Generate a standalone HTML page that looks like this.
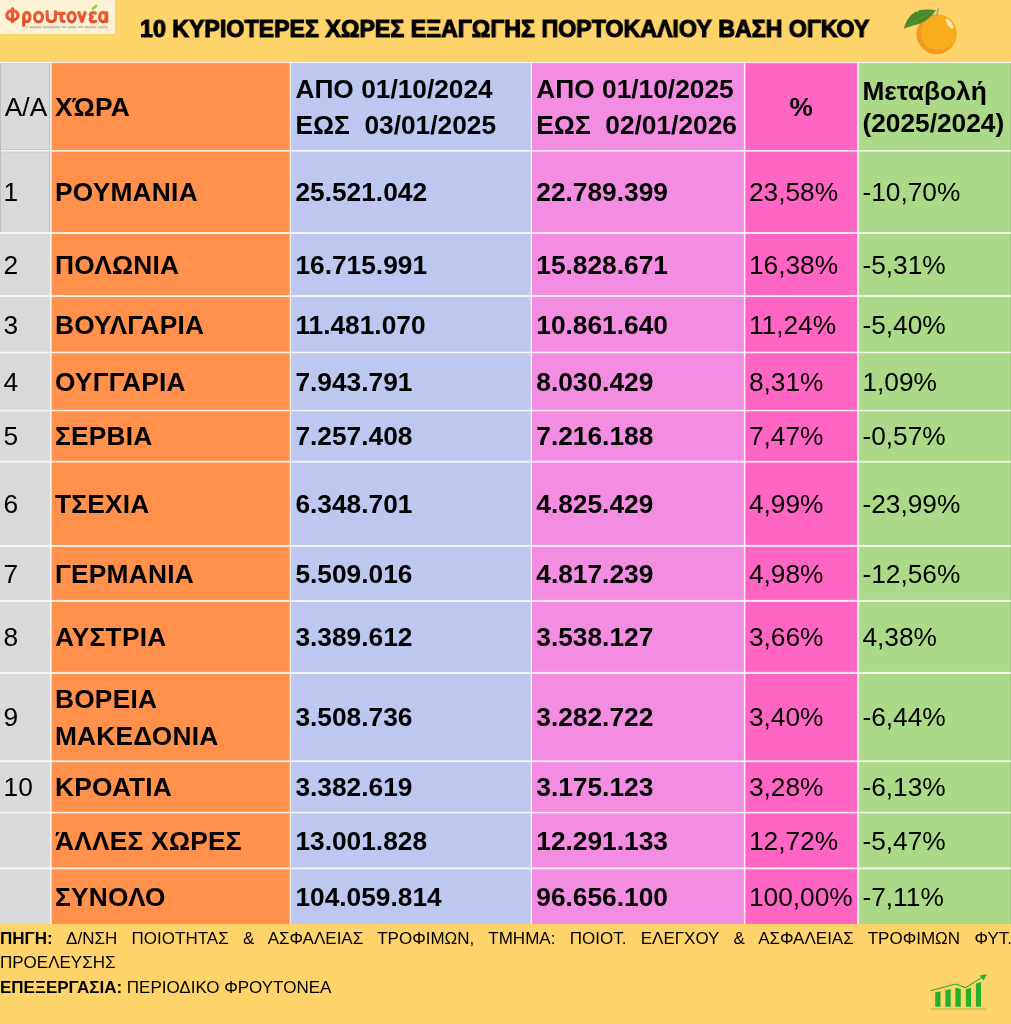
<!DOCTYPE html>
<html><head><meta charset="utf-8">
<style>
html,body{margin:0;padding:0;}
body{width:1011px;height:1024px;overflow:hidden;position:relative;background:#FED46A;font-family:"Liberation Sans",sans-serif;color:#000;}
.abs{position:absolute;}
#texts,.foot,.title{will-change:transform;}
.t{position:absolute;white-space:pre;font-size:26.3px;line-height:36.8px;}
.b{font-weight:bold;}
.title{position:absolute;left:140.3px;top:14.2px;font-weight:bold;font-size:24.6px;line-height:30px;white-space:pre;transform-origin:0 0;transform:scaleX(0.943);-webkit-text-stroke:1.1px #000;}
.foot{position:absolute;left:0;width:1012px;font-size:17px;line-height:24px;white-space:nowrap;}
</style></head>
<body>
<!-- logo -->
<div class="abs" style="left:0;top:0;width:115px;height:34px;background:#FDF1D6;"></div>
<svg class="abs" style="left:0;top:0" width="115" height="34" viewBox="0 0 115 34">
  <defs><linearGradient id="lg" gradientUnits="userSpaceOnUse" x1="0" y1="8" x2="0" y2="25"><stop offset="0" stop-color="#F26536"/><stop offset="1" stop-color="#DF4C28"/></linearGradient></defs>
  <g fill="none" stroke="url(#lg)" stroke-width="3.2" stroke-linecap="round" stroke-linejoin="round">
    <ellipse cx="12.45" cy="15.2" rx="5.6" ry="4.5"/>
    <path d="M12.45 8.6 V21.6" stroke-width="3.2"/>
    <ellipse cx="26.85" cy="17.0" rx="3.15" ry="4.6"/>
    <path d="M23.7 17 V25.2" stroke-width="3.1"/>
    <ellipse cx="38.55" cy="17.1" rx="4.0" ry="4.75"/>
    <path d="M47.2 11.5 V17.6 Q47.2 21.6 51.35 21.6 Q55.5 21.6 55.5 17.6 V11.5" stroke-width="3.1"/>
    <path d="M57.4 13.35 H64.2" stroke-width="3.4"/>
    <path d="M61.25 13.3 V18.8 Q61.25 21.4 64.0 21.4" stroke-width="3.3"/>
    <ellipse cx="71.65" cy="17.1" rx="3.55" ry="4.75"/>
    <path d="M78.8 12.6 L81.95 21.5 L85.1 12.6" stroke-width="3.2"/>
    <path d="M95.3 13.1 Q92.6 12.1 90.8 13.5 Q89.4 15.3 92.3 17.0 Q89.3 18.5 90.6 20.7 Q92.6 22.5 95.7 21.3" stroke-width="3.2"/>
    <ellipse cx="102.9" cy="17.1" rx="3.3" ry="4.7" stroke-width="3.3"/>
    <path d="M106.7 12.6 V21.6" stroke-width="3.2"/>
  </g>
  <ellipse cx="94.4" cy="7.5" rx="3.6" ry="1.4" transform="rotate(-42 94.4 7.5)" fill="#9CCB3A"/>
  <g fill="#A39A86" opacity="0.5">
    <rect x="26.3" y="26" width="1.6" height="2"/>
    <rect x="29.3" y="26" width="12" height="2.4"/>
    <rect x="42.8" y="26" width="17" height="2.4"/>
    <rect x="61.3" y="26" width="5" height="2"/>
    <rect x="67.5" y="26" width="9" height="2.4"/>
    <rect x="78" y="26" width="5" height="2"/>
    <rect x="84.5" y="26" width="12" height="2.4"/>
    <rect x="98" y="26" width="9.8" height="2.4"/>
  </g>
</svg>
<div class="title" id="title">10 ΚΥΡΙΟΤΕΡΕΣ ΧΩΡΕΣ ΕΞΑΓΩΓΗΣ ΠΟΡΤΟΚΑΛΙΟΥ ΒΑΣΗ ΟΓΚΟΥ</div>

<!-- orange icon -->
<svg class="abs" style="left:895px;top:0" width="70" height="60" viewBox="895 0 70 60">
  <circle cx="936.5" cy="34.2" r="20" fill="#F39A1E"/>
  <circle cx="938.8" cy="32.5" r="17.6" fill="#F8AE1C"/>
  <ellipse cx="949.5" cy="23.7" rx="2.1" ry="5.8" transform="rotate(-36 949.5 23.7)" fill="#FBE8BE"/>
  <path d="M936.6 16 L938.2 8.8" stroke="#A8A58F" stroke-width="1.6" stroke-linecap="round"/>
  <path d="M903.8 28.8 C906 20.5 910.5 14 916.6 11.3 L917.6 12.5 L918.6 10.2 C924.5 8.8 931 9.5 936 10 C932 16 926 22 917 24.5 C912 26 907 27.5 903.8 28.8 Z" fill="#4A8A2C"/>
  <path d="M905 27.5 C914 22 925 15 935 10.3" stroke="#6CA840" stroke-width="0.6" fill="none"/>
</svg>

<!-- table grid -->
<svg class="abs" style="left:0;top:0" width="1011" height="1024" viewBox="0 0 1011 1024">
    <g id="cells">
<rect x="0.00" y="62.00" width="50.95" height="88.85" fill="#D9D9D9"/>
<rect x="50.95" y="62.00" width="239.45" height="88.85" fill="#FF914D"/>
<rect x="290.40" y="62.00" width="240.95" height="88.85" fill="#BEC7F0"/>
<rect x="531.35" y="62.00" width="213.30" height="88.85" fill="#F38DE2"/>
<rect x="744.65" y="62.00" width="113.35" height="88.85" fill="#FF66C4"/>
<rect x="858.00" y="62.00" width="153.00" height="88.85" fill="#ACD987"/>
<rect x="0.00" y="150.85" width="50.95" height="82.15" fill="#D9D9D9"/>
<rect x="50.95" y="150.85" width="239.45" height="82.15" fill="#FF914D"/>
<rect x="290.40" y="150.85" width="240.95" height="82.15" fill="#BEC7F0"/>
<rect x="531.35" y="150.85" width="213.30" height="82.15" fill="#F38DE2"/>
<rect x="744.65" y="150.85" width="113.35" height="82.15" fill="#FF66C4"/>
<rect x="858.00" y="150.85" width="153.00" height="82.15" fill="#ACD987"/>
<rect x="0.00" y="233.00" width="50.95" height="63.00" fill="#D9D9D9"/>
<rect x="50.95" y="233.00" width="239.45" height="63.00" fill="#FF914D"/>
<rect x="290.40" y="233.00" width="240.95" height="63.00" fill="#BEC7F0"/>
<rect x="531.35" y="233.00" width="213.30" height="63.00" fill="#F38DE2"/>
<rect x="744.65" y="233.00" width="113.35" height="63.00" fill="#FF66C4"/>
<rect x="858.00" y="233.00" width="153.00" height="63.00" fill="#ACD987"/>
<rect x="0.00" y="296.00" width="50.95" height="56.50" fill="#D9D9D9"/>
<rect x="50.95" y="296.00" width="239.45" height="56.50" fill="#FF914D"/>
<rect x="290.40" y="296.00" width="240.95" height="56.50" fill="#BEC7F0"/>
<rect x="531.35" y="296.00" width="213.30" height="56.50" fill="#F38DE2"/>
<rect x="744.65" y="296.00" width="113.35" height="56.50" fill="#FF66C4"/>
<rect x="858.00" y="296.00" width="153.00" height="56.50" fill="#ACD987"/>
<rect x="0.00" y="352.50" width="50.95" height="58.05" fill="#D9D9D9"/>
<rect x="50.95" y="352.50" width="239.45" height="58.05" fill="#FF914D"/>
<rect x="290.40" y="352.50" width="240.95" height="58.05" fill="#BEC7F0"/>
<rect x="531.35" y="352.50" width="213.30" height="58.05" fill="#F38DE2"/>
<rect x="744.65" y="352.50" width="113.35" height="58.05" fill="#FF66C4"/>
<rect x="858.00" y="352.50" width="153.00" height="58.05" fill="#ACD987"/>
<rect x="0.00" y="410.55" width="50.95" height="51.15" fill="#D9D9D9"/>
<rect x="50.95" y="410.55" width="239.45" height="51.15" fill="#FF914D"/>
<rect x="290.40" y="410.55" width="240.95" height="51.15" fill="#BEC7F0"/>
<rect x="531.35" y="410.55" width="213.30" height="51.15" fill="#F38DE2"/>
<rect x="744.65" y="410.55" width="113.35" height="51.15" fill="#FF66C4"/>
<rect x="858.00" y="410.55" width="153.00" height="51.15" fill="#ACD987"/>
<rect x="0.00" y="461.70" width="50.95" height="84.25" fill="#D9D9D9"/>
<rect x="50.95" y="461.70" width="239.45" height="84.25" fill="#FF914D"/>
<rect x="290.40" y="461.70" width="240.95" height="84.25" fill="#BEC7F0"/>
<rect x="531.35" y="461.70" width="213.30" height="84.25" fill="#F38DE2"/>
<rect x="744.65" y="461.70" width="113.35" height="84.25" fill="#FF66C4"/>
<rect x="858.00" y="461.70" width="153.00" height="84.25" fill="#ACD987"/>
<rect x="0.00" y="545.95" width="50.95" height="54.95" fill="#D9D9D9"/>
<rect x="50.95" y="545.95" width="239.45" height="54.95" fill="#FF914D"/>
<rect x="290.40" y="545.95" width="240.95" height="54.95" fill="#BEC7F0"/>
<rect x="531.35" y="545.95" width="213.30" height="54.95" fill="#F38DE2"/>
<rect x="744.65" y="545.95" width="113.35" height="54.95" fill="#FF66C4"/>
<rect x="858.00" y="545.95" width="153.00" height="54.95" fill="#ACD987"/>
<rect x="0.00" y="600.90" width="50.95" height="72.05" fill="#D9D9D9"/>
<rect x="50.95" y="600.90" width="239.45" height="72.05" fill="#FF914D"/>
<rect x="290.40" y="600.90" width="240.95" height="72.05" fill="#BEC7F0"/>
<rect x="531.35" y="600.90" width="213.30" height="72.05" fill="#F38DE2"/>
<rect x="744.65" y="600.90" width="113.35" height="72.05" fill="#FF66C4"/>
<rect x="858.00" y="600.90" width="153.00" height="72.05" fill="#ACD987"/>
<rect x="0.00" y="672.95" width="50.95" height="88.30" fill="#D9D9D9"/>
<rect x="50.95" y="672.95" width="239.45" height="88.30" fill="#FF914D"/>
<rect x="290.40" y="672.95" width="240.95" height="88.30" fill="#BEC7F0"/>
<rect x="531.35" y="672.95" width="213.30" height="88.30" fill="#F38DE2"/>
<rect x="744.65" y="672.95" width="113.35" height="88.30" fill="#FF66C4"/>
<rect x="858.00" y="672.95" width="153.00" height="88.30" fill="#ACD987"/>
<rect x="0.00" y="761.25" width="50.95" height="51.35" fill="#D9D9D9"/>
<rect x="50.95" y="761.25" width="239.45" height="51.35" fill="#FF914D"/>
<rect x="290.40" y="761.25" width="240.95" height="51.35" fill="#BEC7F0"/>
<rect x="531.35" y="761.25" width="213.30" height="51.35" fill="#F38DE2"/>
<rect x="744.65" y="761.25" width="113.35" height="51.35" fill="#FF66C4"/>
<rect x="858.00" y="761.25" width="153.00" height="51.35" fill="#ACD987"/>
<rect x="0.00" y="812.60" width="50.95" height="55.75" fill="#D9D9D9"/>
<rect x="50.95" y="812.60" width="239.45" height="55.75" fill="#FF914D"/>
<rect x="290.40" y="812.60" width="240.95" height="55.75" fill="#BEC7F0"/>
<rect x="531.35" y="812.60" width="213.30" height="55.75" fill="#F38DE2"/>
<rect x="744.65" y="812.60" width="113.35" height="55.75" fill="#FF66C4"/>
<rect x="858.00" y="812.60" width="153.00" height="55.75" fill="#ACD987"/>
<rect x="0.00" y="868.35" width="50.95" height="55.65" fill="#D9D9D9"/>
<rect x="50.95" y="868.35" width="239.45" height="55.65" fill="#FF914D"/>
<rect x="290.40" y="868.35" width="240.95" height="55.65" fill="#BEC7F0"/>
<rect x="531.35" y="868.35" width="213.30" height="55.65" fill="#F38DE2"/>
<rect x="744.65" y="868.35" width="113.35" height="55.65" fill="#FF66C4"/>
<rect x="858.00" y="868.35" width="153.00" height="55.65" fill="#ACD987"/>
<rect x="0" y="62.00" width="1011" height="1.30" fill="#FBFBFB" opacity="0.85"/>
<rect x="0" y="150.00" width="1011" height="1.70" fill="#FBFBFB" opacity="0.85"/>
<rect x="0" y="232.00" width="1011" height="2.00" fill="#FBFBFB" opacity="0.85"/>
<rect x="0" y="295.00" width="1011" height="2.00" fill="#FBFBFB" opacity="0.85"/>
<rect x="0" y="351.70" width="1011" height="1.60" fill="#FBFBFB" opacity="0.85"/>
<rect x="0" y="409.80" width="1011" height="1.50" fill="#FBFBFB" opacity="0.85"/>
<rect x="0" y="460.80" width="1011" height="1.80" fill="#FBFBFB" opacity="0.85"/>
<rect x="0" y="544.90" width="1011" height="2.10" fill="#FBFBFB" opacity="0.85"/>
<rect x="0" y="599.90" width="1011" height="2.00" fill="#FBFBFB" opacity="0.85"/>
<rect x="0" y="671.90" width="1011" height="2.10" fill="#FBFBFB" opacity="0.85"/>
<rect x="0" y="760.30" width="1011" height="1.90" fill="#FBFBFB" opacity="0.85"/>
<rect x="0" y="811.80" width="1011" height="1.60" fill="#FBFBFB" opacity="0.85"/>
<rect x="0" y="867.40" width="1011" height="1.90" fill="#FBFBFB" opacity="0.85"/>
<rect x="50.20" y="62.00" width="1.50" height="862.00" fill="#FBFBFB" opacity="0.85"/>
<rect x="289.70" y="62.00" width="1.40" height="862.00" fill="#FBFBFB" opacity="0.85"/>
<rect x="530.70" y="62.00" width="1.30" height="862.00" fill="#FBFBFB" opacity="0.85"/>
<rect x="743.90" y="62.00" width="1.50" height="862.00" fill="#FBFBFB" opacity="0.85"/>
<rect x="857.10" y="62.00" width="1.80" height="862.00" fill="#FBFBFB" opacity="0.85"/>
<rect x="0" y="63.3" width="1011" height="0.7" fill="#000" opacity="0.08"/>
<rect x="1010" y="63.3" width="1" height="860.7" fill="#000" opacity="0.05"/>
<rect x="0" y="63.3" width="1" height="168.7" fill="#BDBDBD"/>
<rect x="49.2" y="63.3" width="1" height="168.7" fill="#C4C4C4"/>
<rect x="0" y="149.2" width="50.2" height="0.8" fill="#C4C4C4"/>
<rect x="0" y="151.7" width="50.2" height="0.6" fill="#C4C4C4"/>
</g>
</svg>

<div id="texts">
<div class="t" style="left:4.80px;top:88.95px;line-height:36.8px;">Α/Α</div>
<div class="t b" style="left:54.90px;top:88.95px;line-height:36.8px;letter-spacing:0.25px;">ΧΏΡΑ</div>
<div class="t b" style="left:295.40px;top:70.55px;line-height:36.8px;">ΑΠΟ 01/10/2024
ΕΩΣ  03/01/2025</div>
<div class="t b" style="left:536.30px;top:70.55px;line-height:36.8px;">ΑΠΟ 01/10/2025
ΕΩΣ  02/01/2026</div>
<div class="t b" style="left:745.40px;top:88.95px;line-height:36.8px;width:111.70px;text-align:center;">%</div>
<div class="t b" style="left:862.40px;top:74.75px;line-height:32.6px;">Μεταβολή
(2025/2024)</div>
<div class="t" style="left:3.60px;top:174.15px;line-height:36.8px;">1</div>
<div class="t b" style="left:54.90px;top:174.15px;line-height:36.8px;letter-spacing:0.25px;">ΡΟΥΜΑΝΙΑ</div>
<div class="t b" style="left:295.40px;top:174.15px;line-height:36.8px;">25.521.042</div>
<div class="t b" style="left:536.30px;top:174.15px;line-height:36.8px;">22.789.399</div>
<div class="t" style="left:748.90px;top:174.15px;line-height:36.8px;">23,58%</div>
<div class="t" style="left:862.40px;top:174.15px;line-height:36.8px;">-10,70%</div>
<div class="t" style="left:3.60px;top:246.80px;line-height:36.8px;">2</div>
<div class="t b" style="left:54.90px;top:246.80px;line-height:36.8px;letter-spacing:0.25px;">ΠΟΛΩΝΙΑ</div>
<div class="t b" style="left:295.40px;top:246.80px;line-height:36.8px;">16.715.991</div>
<div class="t b" style="left:536.30px;top:246.80px;line-height:36.8px;">15.828.671</div>
<div class="t" style="left:748.90px;top:246.80px;line-height:36.8px;">16,38%</div>
<div class="t" style="left:862.40px;top:246.80px;line-height:36.8px;">-5,31%</div>
<div class="t" style="left:3.60px;top:306.65px;line-height:36.8px;">3</div>
<div class="t b" style="left:54.90px;top:306.65px;line-height:36.8px;letter-spacing:0.25px;">ΒΟΥΛΓΑΡΙΑ</div>
<div class="t b" style="left:295.40px;top:306.65px;line-height:36.8px;">11.481.070</div>
<div class="t b" style="left:536.30px;top:306.65px;line-height:36.8px;">10.861.640</div>
<div class="t" style="left:748.90px;top:306.65px;line-height:36.8px;">11,24%</div>
<div class="t" style="left:862.40px;top:306.65px;line-height:36.8px;">-5,40%</div>
<div class="t" style="left:3.60px;top:363.85px;line-height:36.8px;">4</div>
<div class="t b" style="left:54.90px;top:363.85px;line-height:36.8px;letter-spacing:0.25px;">ΟΥΓΓΑΡΙΑ</div>
<div class="t b" style="left:295.40px;top:363.85px;line-height:36.8px;">7.943.791</div>
<div class="t b" style="left:536.30px;top:363.85px;line-height:36.8px;">8.030.429</div>
<div class="t" style="left:748.90px;top:363.85px;line-height:36.8px;">8,31%</div>
<div class="t" style="left:862.40px;top:363.85px;line-height:36.8px;">1,09%</div>
<div class="t" style="left:3.60px;top:418.35px;line-height:36.8px;">5</div>
<div class="t b" style="left:54.90px;top:418.35px;line-height:36.8px;letter-spacing:0.25px;">ΣΕΡΒΙΑ</div>
<div class="t b" style="left:295.40px;top:418.35px;line-height:36.8px;">7.257.408</div>
<div class="t b" style="left:536.30px;top:418.35px;line-height:36.8px;">7.216.188</div>
<div class="t" style="left:748.90px;top:418.35px;line-height:36.8px;">7,47%</div>
<div class="t" style="left:862.40px;top:418.35px;line-height:36.8px;">-0,57%</div>
<div class="t" style="left:3.60px;top:486.05px;line-height:36.8px;">6</div>
<div class="t b" style="left:54.90px;top:486.05px;line-height:36.8px;letter-spacing:0.25px;">ΤΣΕΧΙΑ</div>
<div class="t b" style="left:295.40px;top:486.05px;line-height:36.8px;">6.348.701</div>
<div class="t b" style="left:536.30px;top:486.05px;line-height:36.8px;">4.825.429</div>
<div class="t" style="left:748.90px;top:486.05px;line-height:36.8px;">4,99%</div>
<div class="t" style="left:862.40px;top:486.05px;line-height:36.8px;">-23,99%</div>
<div class="t" style="left:3.60px;top:555.75px;line-height:36.8px;">7</div>
<div class="t b" style="left:54.90px;top:555.75px;line-height:36.8px;letter-spacing:0.25px;">ΓΕΡΜΑΝΙΑ</div>
<div class="t b" style="left:295.40px;top:555.75px;line-height:36.8px;">5.509.016</div>
<div class="t b" style="left:536.30px;top:555.75px;line-height:36.8px;">4.817.239</div>
<div class="t" style="left:748.90px;top:555.75px;line-height:36.8px;">4,98%</div>
<div class="t" style="left:862.40px;top:555.75px;line-height:36.8px;">-12,56%</div>
<div class="t" style="left:3.60px;top:619.20px;line-height:36.8px;">8</div>
<div class="t b" style="left:54.90px;top:619.20px;line-height:36.8px;letter-spacing:0.25px;">ΑΥΣΤΡΙΑ</div>
<div class="t b" style="left:295.40px;top:619.20px;line-height:36.8px;">3.389.612</div>
<div class="t b" style="left:536.30px;top:619.20px;line-height:36.8px;">3.538.127</div>
<div class="t" style="left:748.90px;top:619.20px;line-height:36.8px;">3,66%</div>
<div class="t" style="left:862.40px;top:619.20px;line-height:36.8px;">4,38%</div>
<div class="t" style="left:3.60px;top:699.45px;line-height:36.8px;">9</div>
<div class="t b" style="left:54.90px;top:681.05px;line-height:36.8px;letter-spacing:0.25px;">ΒΟΡΕΙΑ
ΜΑΚΕΔΟΝΙΑ</div>
<div class="t b" style="left:295.40px;top:699.45px;line-height:36.8px;">3.508.736</div>
<div class="t b" style="left:536.30px;top:699.45px;line-height:36.8px;">3.282.722</div>
<div class="t" style="left:748.90px;top:699.45px;line-height:36.8px;">3,40%</div>
<div class="t" style="left:862.40px;top:699.45px;line-height:36.8px;">-6,44%</div>
<div class="t" style="left:3.60px;top:769.30px;line-height:36.8px;">10</div>
<div class="t b" style="left:54.90px;top:769.30px;line-height:36.8px;letter-spacing:0.25px;">ΚΡΟΑΤΙΑ</div>
<div class="t b" style="left:295.40px;top:769.30px;line-height:36.8px;">3.382.619</div>
<div class="t b" style="left:536.30px;top:769.30px;line-height:36.8px;">3.175.123</div>
<div class="t" style="left:748.90px;top:769.30px;line-height:36.8px;">3,28%</div>
<div class="t" style="left:862.40px;top:769.30px;line-height:36.8px;">-6,13%</div>
<div class="t b" style="left:54.90px;top:822.70px;line-height:36.8px;letter-spacing:0.25px;">ΆΛΛΕΣ ΧΩΡΕΣ</div>
<div class="t b" style="left:295.40px;top:822.70px;line-height:36.8px;">13.001.828</div>
<div class="t b" style="left:536.30px;top:822.70px;line-height:36.8px;">12.291.133</div>
<div class="t" style="left:748.90px;top:822.70px;line-height:36.8px;">12,72%</div>
<div class="t" style="left:862.40px;top:822.70px;line-height:36.8px;">-5,47%</div>
<div class="t b" style="left:54.90px;top:878.95px;line-height:36.8px;letter-spacing:0.25px;">ΣΥΝΟΛΟ</div>
<div class="t b" style="left:295.40px;top:878.95px;line-height:36.8px;">104.059.814</div>
<div class="t b" style="left:536.30px;top:878.95px;line-height:36.8px;">96.656.100</div>
<div class="t" style="left:748.90px;top:878.95px;line-height:36.8px;">100,00%</div>
<div class="t" style="left:862.40px;top:878.95px;line-height:36.8px;">-7,11%</div>
</div>

<div class="foot" style="top:927px;text-align:justify;text-align-last:justify;"><b>ΠΗΓΗ:</b> Δ/ΝΣΗ ΠΟΙΟΤΗΤΑΣ &amp; ΑΣΦΑΛΕΙΑΣ ΤΡΟΦΙΜΩΝ, ΤΜΗΜΑ: ΠΟΙΟΤ. ΕΛΕΓΧΟΥ &amp; ΑΣΦΑΛΕΙΑΣ ΤΡΟΦΙΜΩΝ ΦΥΤ.</div>
<div class="foot" style="top:951px;">ΠΡΟΕΛΕΥΣΗΣ</div>
<div class="foot" style="top:975.5px;"><b>ΕΠΕΞΕΡΓΑΣΙΑ:</b> ΠΕΡΙΟΔΙΚΟ ΦΡΟΥΤΟΝΕΑ</div>

<!-- chart icon -->
<svg class="abs" style="left:925px;top:968px" width="66" height="46" viewBox="925 968 66 46">
  <rect x="930.9" y="1008" width="56" height="1.9" fill="#C9C95C"/>
  <path d="M935.2 1006.7 V992.4 L940.5 991.2 V1006.7 Z" fill="#24B02B"/>
  <path d="M945.4 1006.7 V990.3 L950.7 989.2 V1006.7 Z" fill="#24B02B"/>
  <path d="M955.4 1006.7 V987.6 L960.8 989 V1006.7 Z" fill="#24B02B"/>
  <path d="M965.9 1006.7 V989.3 L971 987.9 V1006.7 Z" fill="#24B02B"/>
  <path d="M975.9 1006.7 V983.6 L981 982 V1006.7 Z" fill="#24B02B"/>
  <path d="M930.5 990.8 L955.4 984 L965.7 987.6 L983.5 976.4" stroke="#24B02B" stroke-width="1.1" fill="none"/>
  <path d="M986.8 974.2 L979.6 975.6 L983.6 980.4 Z" fill="#24B02B"/>
</svg>
</body></html>
